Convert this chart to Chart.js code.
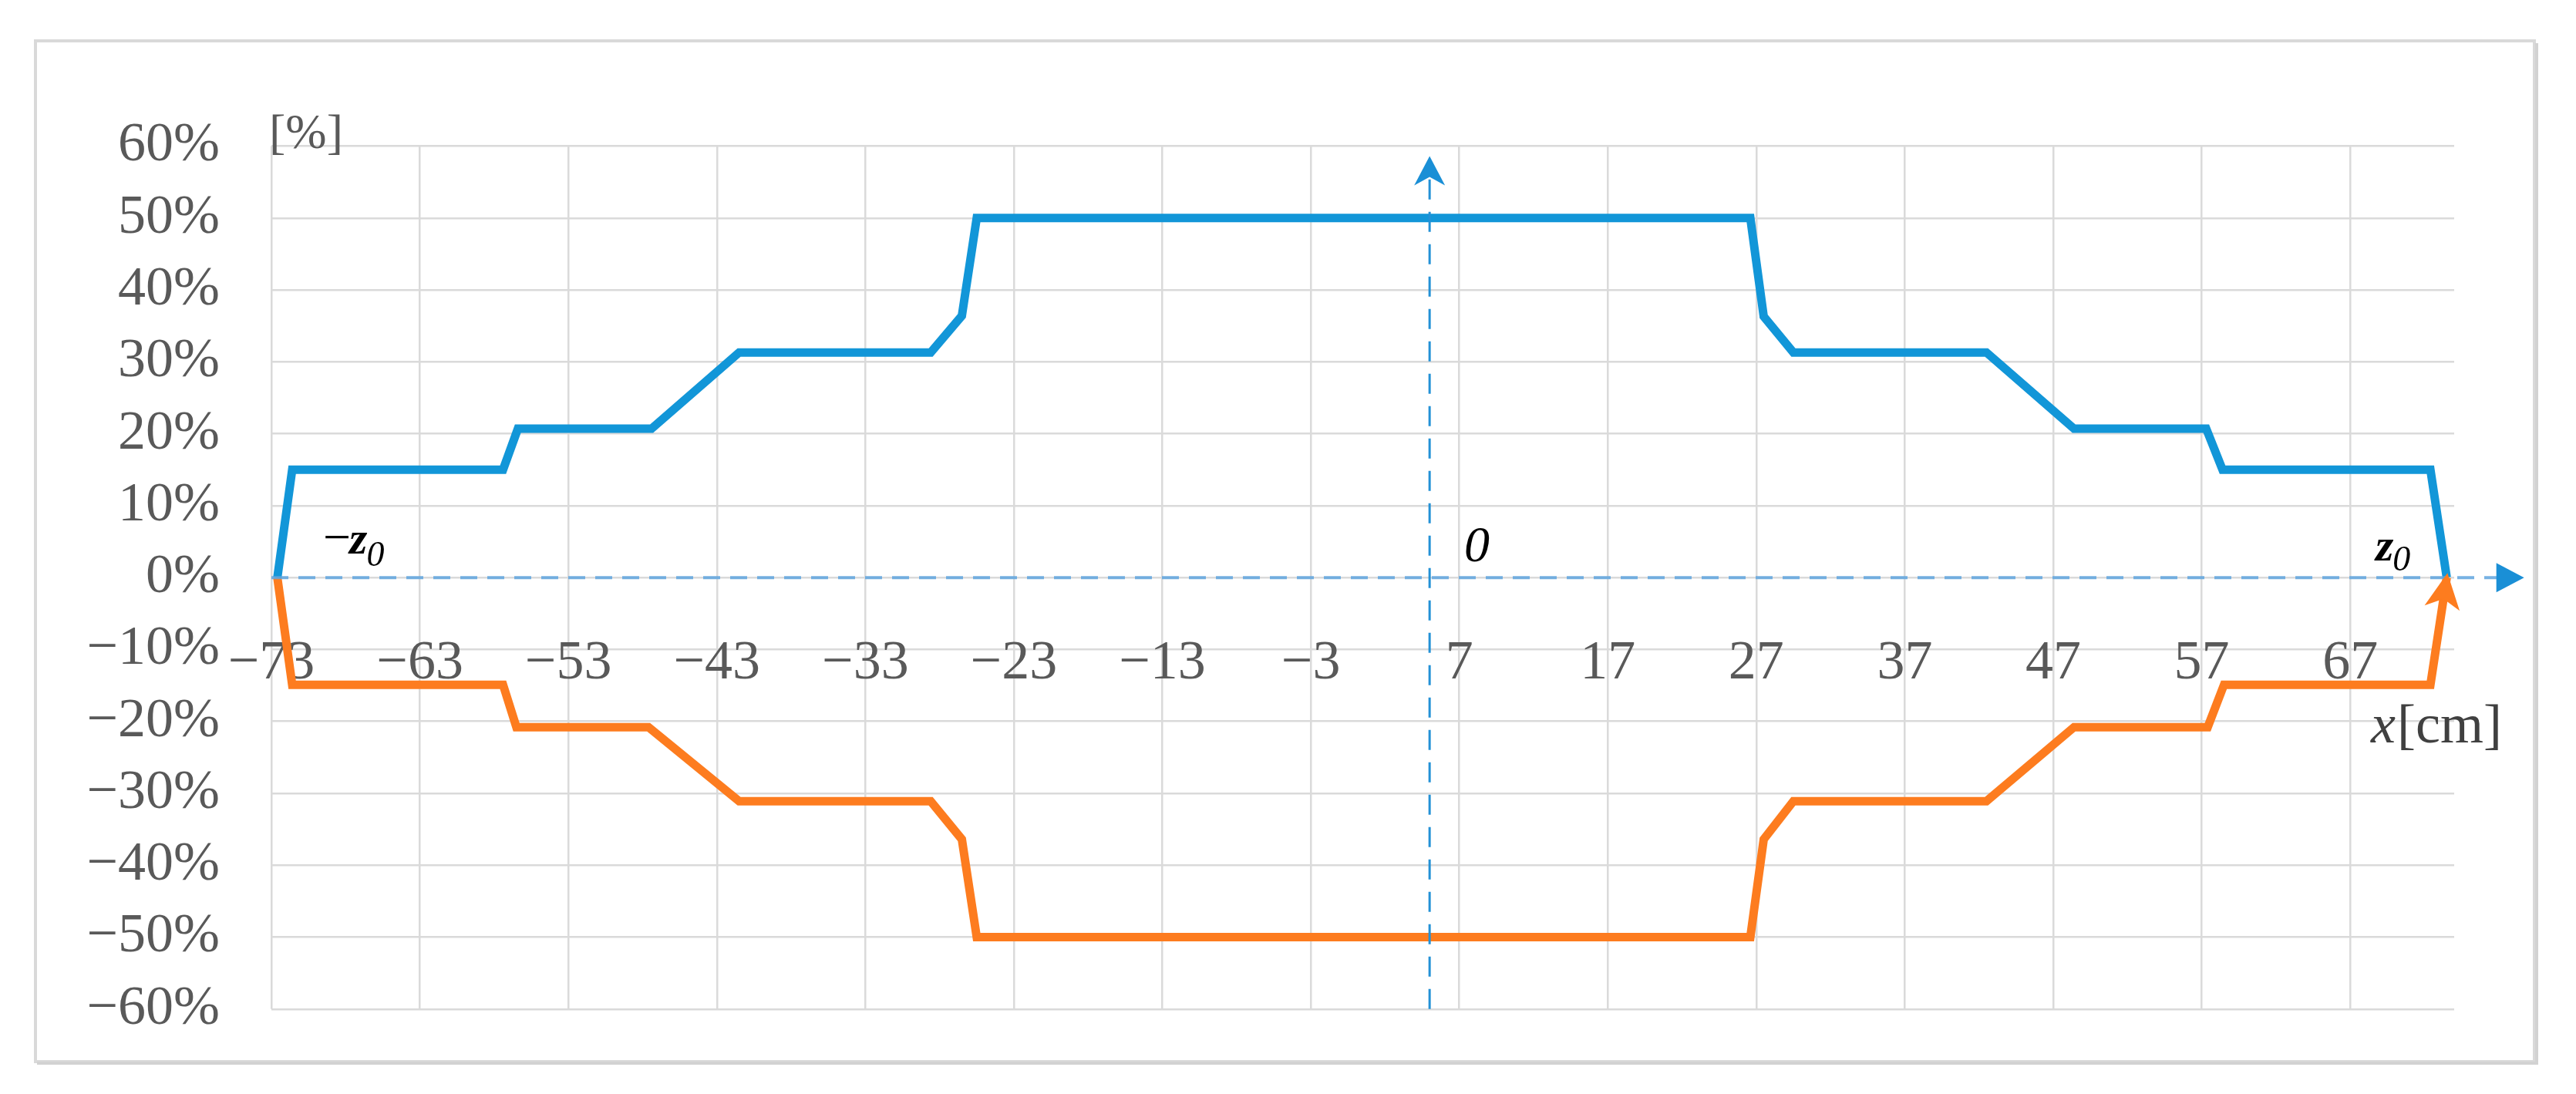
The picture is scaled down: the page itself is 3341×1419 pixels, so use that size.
<!DOCTYPE html>
<html><head><meta charset="utf-8">
<script src="https://cdn.jsdelivr.net/npm/chart.js@4.4.1/dist/chart.umd.min.js"></script>
<style>html,body{margin:0;padding:0;background:#fff;} #wrap{position:relative;width:3341px;height:1419px;}</style>
</head><body><div id="wrap"><canvas id="c" width="3341" height="1419"></canvas></div>
<script>
// ---- data ----
const xTickValues = [-73, -63, -53, -43, -33, -23, -13, -3, 7, 17, 27, 37, 47, 57, 67];
const yTickValues = [-60, -50, -40, -30, -20, -10, 0, 10, 20, 30, 40, 50, 60];
const upperX = [-72.6, -71.6, -57.4, -56.4, -47.4, -41.5, -28.6, -26.5, -25.5, 26.6, 27.5, 29.5, 42.5, 48.4, 57.3, 58.4, 72.4, 73.5];
const upperY = [0, 15.0, 15.0, 20.7, 20.7, 31.3, 31.3, 36.4, 50.0, 50.0, 36.3, 31.3, 31.3, 20.7, 20.7, 15.0, 15.0, 0];
const lowerX = [-72.6, -71.6, -57.4, -56.5, -47.6, -41.5, -28.6, -26.5, -25.5, 26.6, 27.5, 29.5, 42.5, 48.4, 57.4, 58.5, 72.4, 73.5];
const lowerY = [0, -14.9, -14.9, -20.8, -20.8, -31.1, -31.1, -36.4, -50.0, -50.0, -36.4, -31.1, -31.1, -20.8, -20.8, -14.9, -14.9, 0];
const xAxisLineX = [-73, 78.5];      // dashed horizontal axis (y = 0)
const yAxisAtX = 5;                   // dashed vertical axis position
const yAxisLineY = [-60, 57];
const yAxisArrowTipY = 58.6;

const FONT = "'Liberation Serif', 'Times New Roman', serif";
const fmt = v => (v < 0 ? '\u2212' + Math.abs(v) : String(v));
const pts = (xs, ys) => xs.map((x, i) => ({x: x, y: ys[i]}));

function stealth(ctx, tx, ty, dx, dy, L, W, notch, color) {
  const len = Math.hypot(dx, dy); dx /= len; dy /= len;
  const nx = -dy, ny = dx;
  const bx = tx - L * dx, by = ty - L * dy;
  const mx = tx - (L - notch) * dx, my = ty - (L - notch) * dy;
  ctx.save();
  ctx.fillStyle = color;
  ctx.beginPath();
  ctx.moveTo(tx, ty);
  ctx.lineTo(bx + W * nx, by + W * ny);
  ctx.lineTo(mx, my);
  ctx.lineTo(bx - W * nx, by - W * ny);
  ctx.closePath();
  ctx.fill();
  ctx.restore();
}

const framePlugin = {
  id: 'frame',
  beforeDraw(chart) {
    const ctx = chart.ctx;
    ctx.save();
    ctx.fillStyle = '#ffffff';
    ctx.fillRect(0, 0, chart.width, chart.height);
    ctx.strokeStyle = '#d9d9d9';
    ctx.lineWidth = 4;
    ctx.strokeRect(46, 53, 3241, 1324);
    ctx.strokeStyle = '#d2d2d2';
    ctx.lineWidth = 4;
    ctx.beginPath();
    ctx.moveTo(48, 1379); ctx.lineTo(3290, 1379); ctx.lineTo(3290, 56);
    ctx.stroke();
    ctx.restore();
  }
};

const decoPlugin = {
  id: 'deco',
  afterDatasetsDraw(chart) {
    const ctx = chart.ctx;
    const xs = chart.scales.x, ys = chart.scales.y;
    // horizontal axis arrow
    const hx = xs.getPixelForValue(xAxisLineX[1]), hy = ys.getPixelForValue(0);
    stealth(ctx, hx + 4, hy, 1, 0, 36, 19, 0, '#1a8fd6');
    // vertical axis arrow
    const vx = xs.getPixelForValue(yAxisAtX), vy = ys.getPixelForValue(yAxisArrowTipY);
    stealth(ctx, vx, vy, 0, -1, 38, 20, 11, '#1a8fd6');
    // orange end arrow
    const meta = chart.getDatasetMeta(3);
    const n = meta.data.length;
    const p1 = meta.data[n - 2], p2 = meta.data[n - 1];
    const ddx = p2.x - p1.x, ddy = p2.y - p1.y, dl = Math.hypot(ddx, ddy);
    stealth(ctx, p2.x + ddx / dl * 6, p2.y + ddy / dl * 6, ddx, ddy, 46, 23, 12, '#fd7c1f');

    // texts
    ctx.save();
    ctx.textBaseline = 'alphabetic';
    ctx.textAlign = 'left';
    ctx.fillStyle = '#595959';
    ctx.font = '64px ' + FONT;
    ctx.fillText('[%]', 349, 192);
    // x[cm]
    ctx.fillStyle = '#404040';
    ctx.font = 'italic 72px ' + FONT;
    ctx.fillText('x', 3075, 963);
    let w = ctx.measureText('x').width;
    ctx.font = '72px ' + FONT;
    ctx.fillText('[cm]', 3075 + w + 2, 963);
    // -z0
    ctx.fillStyle = '#000000';
    ctx.font = '64px ' + FONT;
    ctx.fillText('\u2212', 419, 718);
    w = ctx.measureText('\u2212').width;
    ctx.font = 'italic bold 60px ' + FONT;
    ctx.fillText('z', 419 + w - 2, 718);
    let w2 = ctx.measureText('z').width;
    ctx.font = 'italic 46px ' + FONT;
    ctx.fillText('0', 419 + w - 2 + w2 - 1, 734);
    // z0 right
    ctx.font = 'italic bold 60px ' + FONT;
    ctx.fillText('z', 3081, 727);
    w2 = ctx.measureText('z').width;
    ctx.font = 'italic 46px ' + FONT;
    ctx.fillText('0', 3081 + w2 - 1, 740);
    // 0 at origin
    ctx.font = 'italic 66px ' + FONT;
    ctx.fillText('0', 1899, 728);
    ctx.restore();
  }
};

new Chart(document.getElementById('c'), {
  type: 'line',
  data: {
    datasets: [
      { label: 'xaxis', data: pts(xAxisLineX, [0, 0]), borderColor: 'rgba(95,165,222,0.85)', borderWidth: 4,
        borderDash: [22, 13], pointRadius: 0, clip: false, fill: false },
      { label: 'yaxis', data: pts([yAxisAtX, yAxisAtX], yAxisLineY), borderColor: '#2391d6', borderWidth: 3,
        borderDash: [26, 16], pointRadius: 0, clip: false, fill: false },
      { label: 'upper', data: pts(upperX, upperY), borderColor: '#1296d8', borderWidth: 11,
        pointRadius: 0, tension: 0, fill: false, clip: false },
      { label: 'lower', data: pts(lowerX, lowerY), borderColor: '#fd7c1f', borderWidth: 11,
        pointRadius: 0, tension: 0, fill: false, clip: false }
    ]
  },
  options: {
    responsive: false,
    animation: false,
    devicePixelRatio: 1,
    layout: { padding: { top: 189.5, right: 158, bottom: 104.5, left: 0 } },
    plugins: { legend: { display: false }, tooltip: { enabled: false } },
    scales: {
      x: {
        type: 'linear', min: -73, max: 74,
        position: { y: -5 },
        afterBuildTicks: s => { s.ticks = xTickValues.map(v => ({ value: v })); },
        ticks: { callback: v => fmt(v), font: { family: FONT, size: 72 }, color: '#595959',
                 padding: 22, autoSkip: false, maxRotation: 0, minRotation: 0 },
        grid: { color: '#dadada', lineWidth: 2.5, drawTicks: false },
        border: { display: false }
      },
      y: {
        type: 'linear', min: -60, max: 60, position: 'left',
        afterBuildTicks: s => { s.ticks = yTickValues.map(v => ({ value: v })); },
        afterFit: s => { s.width = 352; },
        ticks: { callback: v => fmt(v) + '%', font: { family: FONT, size: 72 }, color: '#595959', padding: 67 },
        grid: { color: '#dadada', lineWidth: 2.5, drawTicks: false },
        border: { display: false }
      }
    }
  },
  plugins: [framePlugin, decoPlugin]
});
</script>
</body></html>
